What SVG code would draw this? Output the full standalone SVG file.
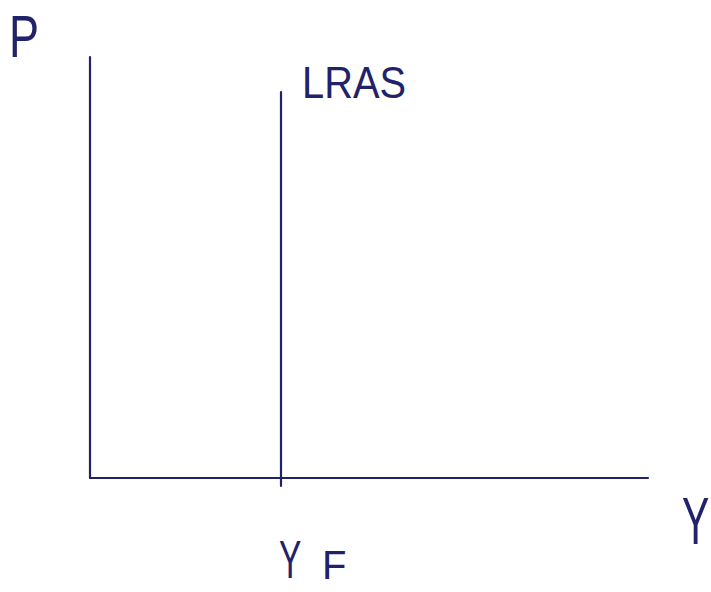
<svg xmlns="http://www.w3.org/2000/svg" width="711" height="592" viewBox="0 0 711 592">
<style>
.ln{stroke:#22226a;stroke-width:2.2;fill:none;stroke-linecap:round}
.t{font-family:"Liberation Sans",Arial,sans-serif;fill:#22226a;font-weight:normal}
</style>
<rect width="711" height="592" fill="#ffffff"/>
<g id="connectors">
<line class="ln" x1="90" y1="57" x2="90" y2="478"/>
<line class="ln" x1="90" y1="478" x2="648" y2="478"/>
<line class="ln" x1="281" y1="92" x2="281" y2="486"/>
</g>
<g id="label-P"><text class="t" x="9" y="57" font-size="60" textLength="30" lengthAdjust="spacingAndGlyphs">P</text></g>
<g id="label-LRAS"><text class="t" x="302" y="98" font-size="44" textLength="104" lengthAdjust="spacingAndGlyphs">LRAS</text></g>
<g id="label-Y"><text class="t" transform="translate(682,544) scale(0.62,1)" x="0" y="0" font-size="66">Y</text></g>
<g id="label-YF">
<text class="t" transform="translate(279,578) scale(0.62,1)" x="0" y="0" font-size="54">Y</text>
<text class="t" x="322" y="579" font-size="40">F</text>
</g>
</svg>
